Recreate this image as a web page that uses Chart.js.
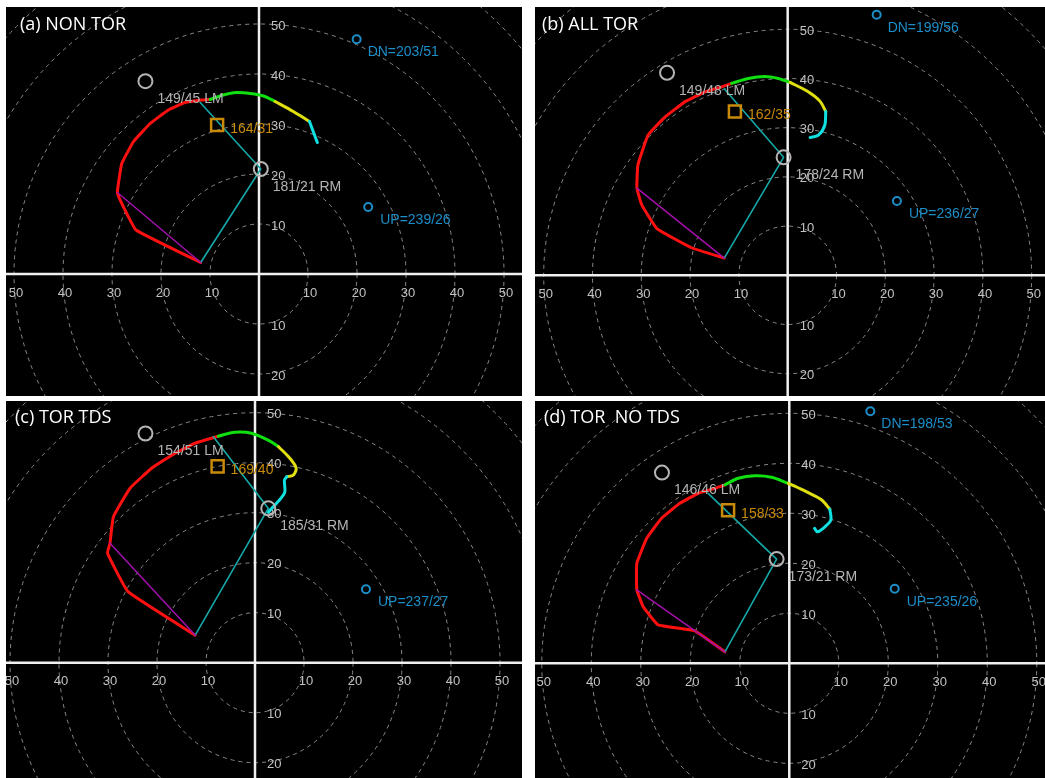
<!DOCTYPE html>
<html>
<head>
<meta charset="utf-8">
<title>Composite hodographs</title>
<script src="https://cdn.jsdelivr.net/npm/chart.js@4.4.1/dist/chart.umd.min.js"></script>
<style>
  html, body { margin: 0; padding: 0; background: #ffffff; }
  #sheet { position: relative; width: 1045px; height: 778px; overflow: hidden; background: #ffffff; }
  #sheet canvas { position: absolute; background: #000000; }
</style>
</head>
<body>
<div id="sheet">
  <canvas id="hodoA"></canvas>
  <canvas id="hodoB"></canvas>
  <canvas id="hodoC"></canvas>
  <canvas id="hodoD"></canvas>
</div>
<script>
// ---- axis ticks and range rings (knots) ----
const uTicks = [-50, -40, -30, -20, -10, 10, 20, 30, 40, 50];
const vTicks = [-20, -10, 10, 20, 30, 40, 50];
const ringSpeeds = [10, 20, 30, 40, 50, 60, 70, 80];

// ---- (a) NON TOR : composite wind profile (u, v in kt) by layer ----
const nonTorRed = [[-11.9, 2.3], [-25.1, 8.8], [-27.7, 13.5], [-28.9, 16.3], [-28.0, 22.1], [-25.6, 26.5],
  [-22.2, 30.1], [-18.5, 32.8], [-15.1, 34.3], [-11.7, 34.8], [-10.0, 34.9]];
const nonTorGreen = [[-10.0, 34.9], [-7.3, 35.8], [-4.6, 36.3], [-1.8, 36.1], [0.9, 35.6], [3.3, 34.5]];
const nonTorYellow = [[3.3, 34.5], [7.0, 32.5], [10.3, 30.5]];
const nonTorCyan = [[10.3, 30.5], [11.9, 26.3]];
const nonTorBend = [-28.9, 16.3];
const nonTorTop = [-12.0, 34.3];
// storm motions / vertical motions as [direction deg, speed kt]
const nonTorLM = [149, 45], nonTorRM = [181, 21], nonTorMean = [164, 31];
const nonTorDN = [203, 51], nonTorUP = [239, 26];

// ---- (b) ALL TOR ----
const allTorRed = [[-13.0, 3.5], [-19.7, 5.6], [-26.8, 9.5], [-29.9, 14.3], [-30.9, 17.7], [-30.7, 22.4],
  [-28.6, 28.5], [-25.1, 32.2], [-21.0, 35.3], [-16.9, 37.3], [-13.5, 38.3], [-11.5, 39.0]];
const allTorGreen = [[-11.5, 39.0], [-8.1, 40.0], [-4.7, 40.4], [-1.9, 40.0], [0.5, 39.2]];
const allTorYellow = [[0.5, 39.2], [4.2, 37.3], [6.6, 35.4], [7.8, 33.3]];
const allTorCyan = [[7.8, 33.3], [7.6, 30.5], [6.3, 28.5], [4.6, 28.0]];
const allTorBend = [-30.9, 17.7];
const allTorTop = [-13.0, 37.9];
const allTorLM = [149, 48], allTorRM = [178, 24], allTorMean = [162, 35];
const allTorDN = [199, 56], allTorUP = [236, 27];

// ---- (c) TOR TDS ----
const torTdsRed = [[-12.2, 5.5], [-25.9, 14.2], [-30.1, 21.9], [-29.6, 23.9], [-28.9, 29.2], [-25.5, 34.9],
  [-21.1, 38.9], [-16.3, 41.9], [-12.2, 43.9], [-7.5, 45.3]];
const torTdsGreen = [[-7.5, 45.3], [-4.1, 46.1], [-0.7, 45.9], [2.7, 44.5], [4.8, 43.2]];
const torTdsYellow = [[4.8, 43.2], [7.1, 40.9], [8.4, 38.9], [7.8, 37.5], [6.5, 37.2]];
const torTdsCyan = [[6.5, 37.2], [6.0, 36.5], [6.1, 34.2], [5.3, 32.9], [4.4, 31.9], [2.7, 30.1]];
const torTdsBend = [-29.6, 23.9];
const torTdsTop = [-8.5, 45.2];
const torTdsLM = [154, 51], torTdsRM = [185, 31], torTdsMean = [169, 40];
const torTdsDN = null, torTdsUP = [237, 27];

// ---- (d) TOR  NO TDS ----
const torNoTdsRed = [[-13.0, 2.3], [-19.1, 6.5], [-26.5, 7.7], [-29.5, 11.3], [-30.8, 14.7], [-30.8, 20.0],
  [-28.8, 25.0], [-25.8, 29.0], [-22.1, 32.0], [-18.4, 34.0], [-15.0, 35.0], [-13.0, 35.7]];
const torNoTdsGreen = [[-13.0, 35.7], [-10.3, 37.0], [-6.9, 37.5], [-3.6, 37.2], [-0.2, 36.0]];
const torNoTdsYellow = [[-0.2, 36.0], [3.5, 34.3], [6.5, 32.7], [8.2, 30.8]];
const torNoTdsCyan = [[8.2, 30.8], [8.4, 28.7], [7.2, 27.3], [5.7, 26.3], [5.1, 27.0]];
const torNoTdsBend = [-30.8, 14.7];
const torNoTdsTop = [-16.4, 34.0];
const torNoTdsLM = [146, 46], torNoTdsRM = [173, 21], torNoTdsMean = [158, 33];
const torNoTdsDN = [198, 53], torNoTdsUP = [235, 26];

const panelTitles = ['(a) NON TOR', '(b) ALL TOR', '(c) TOR TDS', '(d) TOR  NO TDS'];

// ---- helpers ----
const DEG = Math.PI / 180;
// wind direction (from) and speed -> u, v components
function motionPoint(m) {
  return { x: -m[1] * Math.sin(m[0] * DEG), y: -m[1] * Math.cos(m[0] * DEG) };
}
const pts = arr => arr.map(p => ({ x: p[0], y: p[1] }));
const fmt = m => m[0] + '/' + m[1];

const COLORS = {
  red: '#ff1010', green: '#10e010', yellow: '#e0e010', cyan: '#10e0e0',
  shear: '#14a8a8', bend: '#a010a8', ring: '#8a8a8a', axis: '#f0f0f0',
  tick: '#c2c2c2', storm: '#b4b4b4', vert: '#1c8ec8', mean: '#c88a08', title: '#ffffff'
};

function buildDatasets(p) {
  const start = p.red[0];
  const rm = motionPoint(p.rm);
  const sets = [];
  const marker = (m, style, r, color, bw) => ({
    data: [motionPoint(m)], showLine: false, pointStyle: style, pointRadius: r,
    pointBorderColor: color, pointBackgroundColor: 'rgba(0,0,0,0)', pointBorderWidth: bw, order: 0
  });
  sets.push(marker(p.lm, 'circle', 7, COLORS.storm, 2));
  sets.push(marker(p.rm, 'circle', 7, COLORS.storm, 2));
  sets.push(marker(p.mean, 'rect', 8.5, COLORS.mean, 2.5));
  if (p.dn) sets.push(marker(p.dn, 'circle', 4, COLORS.vert, 2));
  if (p.up) sets.push(marker(p.up, 'circle', 4, COLORS.vert, 2));
  const line = (data, color, width, tension, order) => ({
    data, showLine: true, borderColor: color, borderWidth: width, pointRadius: 0,
    tension, order, borderCapStyle: 'round', borderJoinStyle: 'round'
  });
  sets.push(line(pts([start, p.bend]), COLORS.bend, 1.6, 0, 1));
  sets.push(line([{ x: start[0], y: start[1] }, rm, { x: p.top[0], y: p.top[1] }], COLORS.shear, 1.6, 0, 1));
  sets.push(line(pts(p.cyan), COLORS.cyan, 3, 0.3, 2));
  sets.push(line(pts(p.yellow), COLORS.yellow, 3, 0.3, 2));
  sets.push(line(pts(p.green), COLORS.green, 3, 0.3, 2));
  sets.push(line(pts(p.red), COLORS.red, 3, 0.1, 2));
  return sets;
}

// black field, dashed speed rings, crossing axes and tick labels
const hodoBackdrop = {
  id: 'hodoBackdrop',
  beforeDatasetsDraw(chart) {
    const { ctx, scales: { x, y } } = chart;
    const W = chart.width, H = chart.height;
    const x0 = x.getPixelForValue(0), y0 = y.getPixelForValue(0);
    const kx = (x.getPixelForValue(10) - x0) / 10, ky = (y0 - y.getPixelForValue(10)) / 10;
    ctx.save();
    ctx.fillStyle = '#000000';
    ctx.fillRect(0, 0, W, H);
    ctx.strokeStyle = COLORS.ring;
    ctx.lineWidth = 1;
    ctx.setLineDash([4, 4]);
    ringSpeeds.forEach(r => {
      ctx.beginPath();
      ctx.ellipse(x0, y0, kx * r, ky * r, 0, 0, Math.PI * 2);
      ctx.stroke();
    });
    ctx.setLineDash([]);
    ctx.font = '13px "Liberation Sans", Arial, sans-serif';
    ctx.fillStyle = COLORS.tick;
    ctx.textBaseline = 'middle';
    ctx.textAlign = 'center';
    uTicks.forEach(t => ctx.fillText(String(Math.abs(t)), x.getPixelForValue(t) + 2, y0 + 19));
    ctx.textAlign = 'left';
    vTicks.forEach(t => ctx.fillText(String(Math.abs(t)), x0 + 12, y.getPixelForValue(t) + 2));
    ctx.strokeStyle = COLORS.axis;
    ctx.lineWidth = 2.5;
    ctx.beginPath();
    ctx.moveTo(x0, 0); ctx.lineTo(x0, H);
    ctx.moveTo(0, y0); ctx.lineTo(W, y0);
    ctx.stroke();
    ctx.restore();
  }
};

// motion annotations and panel title
const hodoAnnotations = {
  id: 'hodoAnnotations',
  afterDatasetsDraw(chart, args, opts) {
    const { ctx, scales: { x, y } } = chart;
    const p = opts.panel;
    const at = m => { const q = motionPoint(m); return [x.getPixelForValue(q.x), y.getPixelForValue(q.y)]; };
    ctx.save();
    ctx.textBaseline = 'middle';
    ctx.textAlign = 'left';
    ctx.font = '14px "Liberation Sans", Arial, sans-serif';
    let q;
    ctx.fillStyle = COLORS.storm;
    q = at(p.lm); ctx.fillText(fmt(p.lm) + ' LM', q[0] + 12, q[1] + 18);
    q = at(p.rm); ctx.fillText(fmt(p.rm) + ' RM', q[0] + 12, q[1] + 18);
    ctx.fillStyle = COLORS.mean;
    q = at(p.mean); ctx.fillText(fmt(p.mean), q[0] + 13, q[1] + 4);
    ctx.fillStyle = COLORS.vert;
    if (p.dn) { q = at(p.dn); ctx.fillText('DN=' + fmt(p.dn), q[0] + 11, q[1] + 13); }
    if (p.up) { q = at(p.up); ctx.fillText('UP=' + fmt(p.up), q[0] + 12, q[1] + 13); }
    ctx.fillStyle = COLORS.title;
    ctx.font = '18px "Open Sans", sans-serif';
    ctx.fillText(p.title, p.titleAt[0], p.titleAt[1]);
    ctx.restore();
  }
};

const panels = [
  { id: 'hodoA', title: panelTitles[0], box: [6, 7, 516, 389], u: [-51.63, 53.67], v: [-24.4, 53.4], titleAt: [14, 18],
    red: nonTorRed, green: nonTorGreen, yellow: nonTorYellow, cyan: nonTorCyan, bend: nonTorBend, top: nonTorTop,
    lm: nonTorLM, rm: nonTorRM, mean: nonTorMean, dn: nonTorDN, up: nonTorUP },
  { id: 'hodoB', title: panelTitles[1], box: [535, 7, 510, 389], u: [-51.78, 52.73], v: [-24.53, 54.53], titleAt: [7, 18],
    red: allTorRed, green: allTorGreen, yellow: allTorYellow, cyan: allTorCyan, bend: allTorBend, top: allTorTop,
    lm: allTorLM, rm: allTorRM, mean: allTorMean, dn: allTorDN, up: allTorUP },
  { id: 'hodoC', title: panelTitles[2], box: [6, 401, 516, 377], u: [-50.82, 54.49], v: [-23.06, 52.34], titleAt: [9, 17],
    red: torTdsRed, green: torTdsGreen, yellow: torTdsYellow, cyan: torTdsCyan, bend: torTdsBend, top: torTdsTop,
    lm: torTdsLM, rm: torTdsRM, mean: torTdsMean, dn: torTdsDN, up: torTdsUP },
  { id: 'hodoD', title: panelTitles[3], box: [535, 401, 510, 377], u: [-51.37, 51.66], v: [-22.94, 52.46], titleAt: [9, 17],
    red: torNoTdsRed, green: torNoTdsGreen, yellow: torNoTdsYellow, cyan: torNoTdsCyan, bend: torNoTdsBend, top: torNoTdsTop,
    lm: torNoTdsLM, rm: torNoTdsRM, mean: torNoTdsMean, dn: torNoTdsDN, up: torNoTdsUP }
];

panels.forEach(p => {
  const cv = document.getElementById(p.id);
  cv.width = p.box[2];
  cv.height = p.box[3];
  cv.style.left = p.box[0] + 'px';
  cv.style.top = p.box[1] + 'px';
  new Chart(cv.getContext('2d'), {
    type: 'scatter',
    data: { datasets: buildDatasets(p) },
    options: {
      responsive: false,
      animation: false,
      devicePixelRatio: 1,
      events: [],
      layout: { padding: 0, autoPadding: false },
      plugins: {
        legend: { display: false },
        tooltip: { enabled: false },
        hodoAnnotations: { panel: p }
      },
      scales: {
        x: { type: 'linear', min: p.u[0], max: p.u[1], display: false },
        y: { type: 'linear', min: p.v[0], max: p.v[1], display: false }
      }
    },
    plugins: [hodoBackdrop, hodoAnnotations]
  });
});
</script>
</body>
</html>
